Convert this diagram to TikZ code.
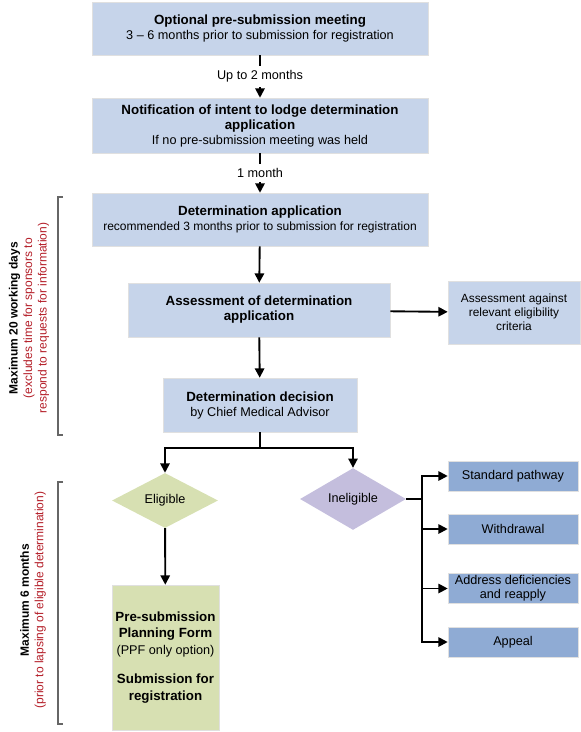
\documentclass[tikz,border=0pt]{standalone}
\usepackage{fontspec}
\setmainfont{Liberation Sans}
\usetikzlibrary{shapes.geometric,arrows.meta}
\definecolor{stepblue}{RGB}{198,212,234}
\definecolor{pathblue}{RGB}{143,171,212}
\definecolor{eliggreen}{RGB}{215,224,178}
\definecolor{inelpurple}{RGB}{196,190,221}
\definecolor{notered}{RGB}{180,30,40}
\tikzstyle{stage} = [rectangle, fill=stepblue, draw=black!12, align=center, inner sep=2pt, font=\fontsize{9.5}{11.25}\selectfont]
\tikzstyle{outcome} = [rectangle, fill=pathblue, draw=black!12, align=center, minimum width=97.5pt, minimum height=22.5pt, inner sep=1pt, font=\fontsize{9.5}{10.8}\selectfont]
\tikzstyle{choice} = [diamond, minimum width=79.5pt, minimum height=41.25pt, inner sep=0pt, font=\fontsize{9.5}{11}\selectfont]
\tikzstyle{flow} = [line width=1.4pt, -{Triangle[width=7pt,length=7pt]}]
\tikzstyle{bracket} = [line width=0.8pt, black!60]
\tikzstyle{span} = [rotate=90, align=center, font=\fontsize{9}{10.8}\selectfont]
\newcommand{\red}[1]{\textcolor{notered}{#1}}
\newcommand{\hd}[1]{{\fontsize{10}{11.25}\selectfont\textbf{#1}}}

\begin{document}
\begin{tikzpicture}[x=0.75pt, y=-0.75pt]
	\useasboundingbox (0,0) rectangle (581,732);
	\node [stage, minimum width=252pt, minimum height=39.75pt] (meet) at (260,28.5) {\hd{Optional pre-submission meeting}\\3 -- 6 months prior to submission for registration};
	\node [stage, minimum width=252pt, minimum height=41.25pt] (intent) at (260,125.5) {\hd{Notification of intent to lodge determination}\\\hd{application}\\If no pre-submission meeting was held};
	\node [stage, minimum width=252pt, minimum height=39.75pt] (apply) at (260,219.5) {\hd{Determination application}\\{\fontsize{9}{10.5}\selectfont recommended 3 months prior to submission for registration}};
	\node [stage, minimum width=196.5pt, minimum height=40.5pt] (assess) at (259,310) {\hd{Assessment of determination}\\\hd{application}};
	\node [stage, minimum width=99pt, minimum height=47.25pt, font=\fontsize{8.9}{10.5}\selectfont] (criteria) at (514,312.5) {Assessment against\\relevant eligibility\\criteria};
	\node [stage, minimum width=145.5pt, minimum height=40.5pt] (decide) at (260,405) {\hd{Determination decision}\\by Chief Medical Advisor};
	\node [choice, fill=eliggreen] (elig) at (165,500.5) {Eligible};
	\node [choice, fill=inelpurple] (inel) at (353,499) {Ineligible};
	\node [stage, fill=eliggreen, minimum width=80.25pt, minimum height=108.75pt, font=\fontsize{9.5}{12.2}\selectfont] (ppf) at (165.5,657.5) {\hd{Pre-submission}\\\hd{Planning Form}\\(PPF only option)\\[10pt]\hd{Submission for}\\\hd{registration}};
	\node [outcome] (std) at (513,476) {Standard pathway};
	\node [outcome] (wdraw) at (513,529) {Withdrawal};
	\node [outcome] (redo) at (513,588.5) {Address deficiencies\\and reapply};
	\node [outcome] (appeal) at (513,642) {Appeal};
	\coordinate (split) at (260,448);
	\coordinate (bus) at (422,499);

	\draw [flow] (meet) -- node [fill=white, font=\fontsize{9.5}{11}\selectfont] {Up to 2 months} (intent);
	\draw [flow] (intent) -- node [fill=white, font=\fontsize{9.5}{11}\selectfont] {1 month} (apply);
	\draw [flow] (apply) -- (assess);
	\draw [flow] (assess) -- (criteria);
	\draw [flow] (assess) -- (decide);
	\draw [line width=1.4pt] (decide) -- (split);
	\draw [flow] (split) -| (elig.north);
	\draw [flow] (split) -| (inel.north);
	\draw [flow] (elig) -- (ppf);
	\draw [line width=1.4pt] (inel.east) -- (bus);
	\draw [flow] (bus) |- (std.west);
	\draw [flow] (bus) |- (wdraw.west);
	\draw [flow] (bus) |- (redo.west);
	\draw [flow] (bus) |- (appeal.west);

	\draw [bracket] (63,197) -- (58,197) -- (58,435) -- (63,435);
	\draw [bracket] (63,482) -- (58,482) -- (58,724) -- (63,724);
	\node [span] (daysnote) at (29,318) {\textbf{Maximum 20 working days}\\\red{(excludes time for sponsors to}\\\red{respond to requests for information)}};
	\node [span] (monthsnote) at (33,600) {\textbf{Maximum 6 months}\\\red{(prior to lapsing of eligible determination)}};
\end{tikzpicture}
\end{document}
